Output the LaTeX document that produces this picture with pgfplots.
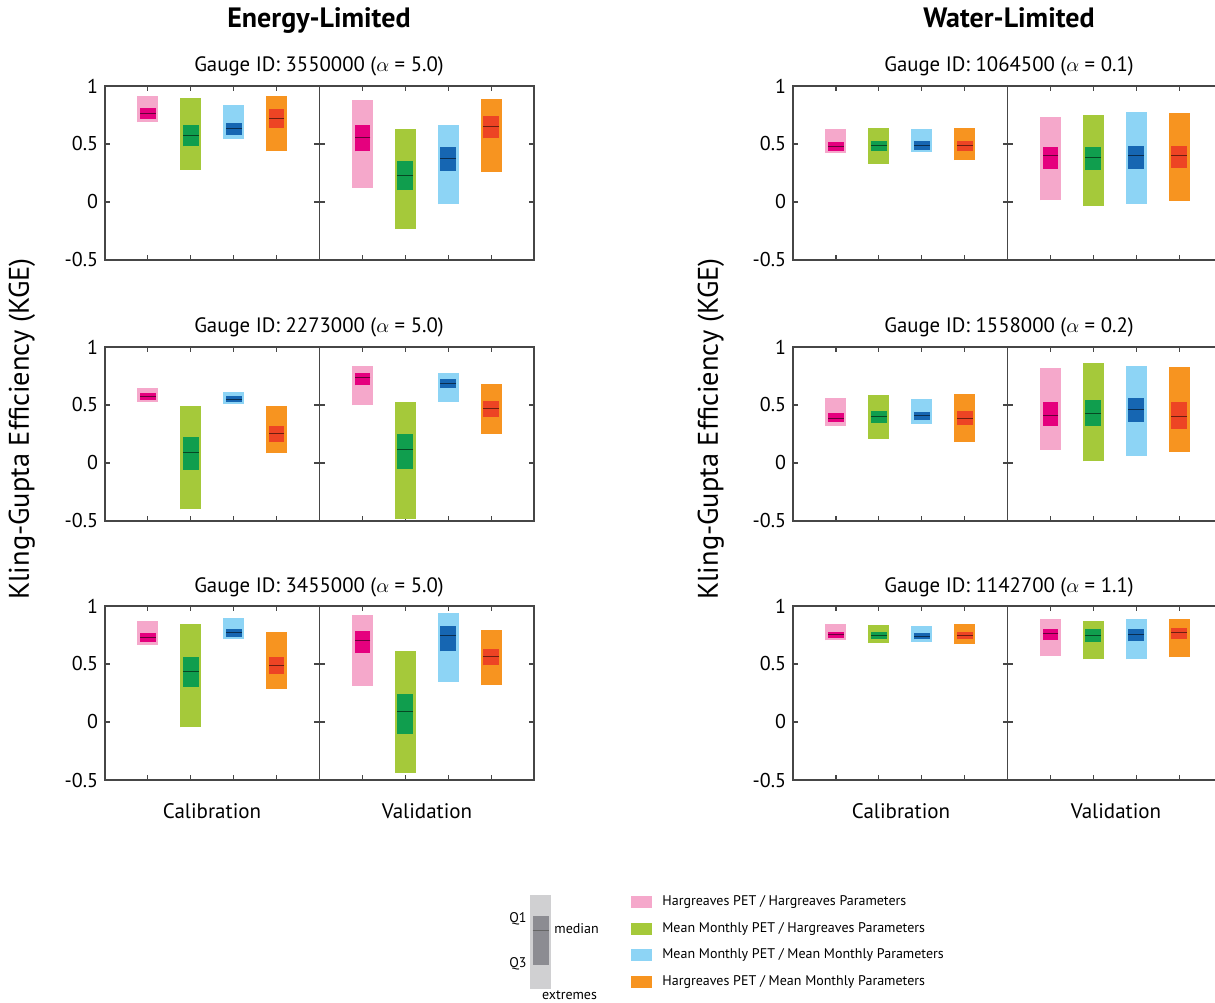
\documentclass[border=0pt]{standalone}
\usepackage{fontspec}
\setmainfont{PT Sans}
\usepackage{pgfplots}
\pgfplotsset{compat=1.18}

\definecolor{pinkL}{RGB}{245,168,203}
\definecolor{pinkD}{RGB}{229,0,126}
\definecolor{greenL}{RGB}{165,201,58}
\definecolor{greenD}{RGB}{16,158,78}
\definecolor{blueL}{RGB}{141,212,245}
\definecolor{blueD}{RGB}{22,102,178}
\definecolor{orangeL}{RGB}{247,148,32}
\definecolor{orangeD}{RGB}{237,68,36}
\definecolor{axisgray}{RGB}{70,70,70}
\definecolor{legL}{RGB}{208,208,210}
\definecolor{legD}{RGB}{140,140,146}

\pgfplotsset{
  panel/.style={
    scale only axis, width=107.25pt, height=87pt,
    xmin=0, xmax=5, ymin=-0.5, ymax=1,
    xtick={1,2,3,4}, xticklabels={,,,,},
    ytick={-0.5,0,0.5,1},
    tick align=inside, major tick length=2.5pt,
    axis line style={axisgray, line width=0.7pt},
    every tick/.style={axisgray, line width=0.6pt},
    anchor=south west,
  },
  calax/.style={panel, yticklabels={-0.5,0,0.5,1},
    yticklabel style={font=\fontsize{10}{12}\selectfont}},
  valax/.style={panel, yticklabels={,,,,}},
}
% #1 position, #2 min, #3 Q1, #4 median, #5 Q3, #6 max, #7 colour family
\newcommand{\bx}[7]{%
  \addplot[draw=#7L, line width=10.5pt] coordinates {(#1,#2) (#1,#6)};
  \addplot[draw=#7D, line width=7.9pt] coordinates {(#1,#3) (#1,#5)};
  \addplot[only marks, mark=-, mark size=3.95pt, mark options={draw=#7D!45!black, line width=0.5pt}] coordinates {(#1,#4)};
}

\begin{document}
\begin{tikzpicture}
\path[use as bounding box] (0,0) rectangle (607.5pt,501pt);

% ===== Energy-Limited, Gauge 3550000 =====
\begin{axis}[calax, at={(52.5pt,371pt)}]
\bx{1}{0.687}{0.718}{0.764}{0.813}{0.917}{pink}
\bx{2}{0.276}{0.48}{0.575}{0.661}{0.90}{green}
\bx{3}{0.543}{0.58}{0.632}{0.684}{0.833}{blue}
\bx{4}{0.437}{0.638}{0.716}{0.799}{0.914}{orange}
\end{axis}
\begin{axis}[valax, at={(159.75pt,371pt)}]
\bx{1}{0.121}{0.437}{0.557}{0.664}{0.882}{pink}
\bx{2}{-0.233}{0.103}{0.23}{0.356}{0.629}{green}
\bx{3}{-0.02}{0.27}{0.379}{0.477}{0.661}{blue}
\bx{4}{0.259}{0.549}{0.652}{0.741}{0.885}{orange}
\end{axis}

% ===== Energy-Limited, Gauge 2273000 =====
\begin{axis}[calax, at={(52.5pt,240.5pt)}]
\bx{1}{0.528}{0.545}{0.574}{0.603}{0.646}{pink}
\bx{2}{-0.399}{-0.057}{0.093}{0.223}{0.493}{green}
\bx{3}{0.508}{0.528}{0.551}{0.574}{0.614}{blue}
\bx{4}{0.082}{0.185}{0.251}{0.318}{0.493}{orange}
\end{axis}
\begin{axis}[valax, at={(159.75pt,240.5pt)}]
\bx{1}{0.496}{0.669}{0.735}{0.778}{0.833}{pink}
\bx{2}{-0.483}{-0.051}{0.113}{0.254}{0.525}{green}
\bx{3}{0.528}{0.646}{0.686}{0.721}{0.778}{blue}
\bx{4}{0.254}{0.398}{0.47}{0.537}{0.677}{orange}
\end{axis}

% ===== Energy-Limited, Gauge 3455000 =====
\begin{axis}[calax, at={(52.5pt,111pt)}]
\bx{1}{0.668}{0.691}{0.731}{0.769}{0.867}{pink}
\bx{2}{-0.047}{0.302}{0.434}{0.562}{0.841}{green}
\bx{3}{0.714}{0.732}{0.769}{0.804}{0.893}{blue}
\bx{4}{0.285}{0.411}{0.489}{0.562}{0.778}{orange}
\end{axis}
\begin{axis}[valax, at={(159.75pt,111pt)}]
\bx{1}{0.311}{0.593}{0.70}{0.784}{0.922}{pink}
\bx{2}{-0.436}{-0.102}{0.088}{0.238}{0.616}{green}
\bx{3}{0.345}{0.608}{0.743}{0.827}{0.942}{blue}
\bx{4}{0.316}{0.489}{0.567}{0.63}{0.789}{orange}
\end{axis}

% ===== Water-Limited, Gauge 1064500 =====
\begin{axis}[calax, at={(396.5pt,371pt)}]
\bx{1}{0.424}{0.441}{0.481}{0.516}{0.625}{pink}
\bx{2}{0.331}{0.438}{0.487}{0.527}{0.634}{green}
\bx{3}{0.432}{0.452}{0.49}{0.522}{0.625}{blue}
\bx{4}{0.36}{0.441}{0.484}{0.527}{0.634}{orange}
\end{axis}
\begin{axis}[valax, at={(503.75pt,371pt)}]
\bx{1}{0.014}{0.288}{0.398}{0.476}{0.735}{pink}
\bx{2}{-0.035}{0.274}{0.383}{0.476}{0.752}{green}
\bx{3}{-0.017}{0.285}{0.40}{0.487}{0.775}{blue}
\bx{4}{0.012}{0.297}{0.40}{0.484}{0.767}{orange}
\end{axis}

% ===== Water-Limited, Gauge 1558000 =====
\begin{axis}[calax, at={(396.5pt,240.5pt)}]
\bx{1}{0.317}{0.352}{0.386}{0.432}{0.562}{pink}
\bx{2}{0.21}{0.346}{0.40}{0.444}{0.582}{green}
\bx{3}{0.337}{0.369}{0.406}{0.441}{0.553}{blue}
\bx{4}{0.179}{0.329}{0.386}{0.444}{0.599}{orange}
\end{axis}
\begin{axis}[valax, at={(503.75pt,240.5pt)}]
\bx{1}{0.115}{0.32}{0.412}{0.522}{0.818}{pink}
\bx{2}{0.014}{0.317}{0.427}{0.539}{0.859}{green}
\bx{3}{0.061}{0.354}{0.461}{0.562}{0.839}{blue}
\bx{4}{0.098}{0.297}{0.398}{0.522}{0.824}{orange}
\end{axis}

% ===== Water-Limited, Gauge 1142700 =====
\begin{axis}[calax, at={(396.5pt,111pt)}]
\bx{1}{0.703}{0.72}{0.752}{0.778}{0.847}{pink}
\bx{2}{0.68}{0.712}{0.744}{0.772}{0.839}{green}
\bx{3}{0.692}{0.712}{0.741}{0.767}{0.83}{blue}
\bx{4}{0.671}{0.715}{0.746}{0.775}{0.847}{orange}
\end{axis}
\begin{axis}[valax, at={(503.75pt,111pt)}]
\bx{1}{0.565}{0.706}{0.761}{0.804}{0.885}{pink}
\bx{2}{0.539}{0.689}{0.746}{0.798}{0.873}{green}
\bx{3}{0.539}{0.695}{0.758}{0.804}{0.885}{blue}
\bx{4}{0.559}{0.715}{0.769}{0.807}{0.885}{orange}
\end{axis}

% ===== Text and legend (image pixel coordinates) =====
\begin{scope}[x=0.5pt, y=-0.5pt, yshift=501pt]
\node[anchor=base, font=\fontsize{14}{16}\selectfont\bfseries] at (319,28) {Energy-Limited};
\node[anchor=base, font=\fontsize{14}{16}\selectfont\bfseries] at (1009,28) {Water-Limited};
\foreach \yy/\gid/\al in {72/3550000/5.0, 333/2273000/5.0, 593/3455000/5.0} {
  \node[anchor=base, font=\fontsize{10.4}{12}\selectfont] at (319,\yy) {Gauge ID: \gid\ (\(\alpha\) = \al)};
}
\foreach \yy/\gid/\al in {72/1064500/0.1, 333/1558000/0.2, 593/1142700/1.1} {
  \node[anchor=base, font=\fontsize{10.4}{12}\selectfont] at (1009,\yy) {Gauge ID: \gid\ (\(\alpha\) = \al)};
}
\node[rotate=90, font=\fontsize{14.2}{16}\selectfont] at (22,429) {Kling-Gupta Efficiency (KGE)};
\node[rotate=90, font=\fontsize{14.2}{16}\selectfont] at (711,429) {Kling-Gupta Efficiency (KGE)};
\node[anchor=base, font=\fontsize{10.5}{12}\selectfont] at (212,818) {Calibration};
\node[anchor=base, font=\fontsize{10.5}{12}\selectfont] at (427,818) {Validation};
\node[anchor=base, font=\fontsize{10.5}{12}\selectfont] at (901,818) {Calibration};
\node[anchor=base, font=\fontsize{10.5}{12}\selectfont] at (1116,818) {Validation};
% schematic
\fill[legL] (530,895) rectangle (551,989);
\fill[legD] (532.5,916) rectangle (548.5,965);
\draw[black!60, line width=0.5pt] (532.5,930) -- (548.5,930);
\node[anchor=base east, inner sep=0pt, font=\fontsize{7}{8}\selectfont] at (527,922) {Q1};
\node[anchor=base east, inner sep=0pt, font=\fontsize{7}{8}\selectfont] at (527,967) {Q3};
\node[anchor=base west, inner sep=0pt, font=\fontsize{7}{8}\selectfont] at (554,933) {median};
\node[anchor=base, inner sep=0pt, font=\fontsize{7}{8}\selectfont] at (569.5,999) {extremes};
% legend
\fill[pinkL] (631,896) rectangle (652,908);
\fill[greenL] (631,922.7) rectangle (652,934.7);
\fill[blueL] (631,949.3) rectangle (652,961.3);
\fill[orangeL] (631,976) rectangle (652,988);
\node[anchor=west, inner sep=0pt, font=\fontsize{7}{8}\selectfont] at (662,902) {Hargreaves PET / Hargreaves Parameters};
\node[anchor=west, inner sep=0pt, font=\fontsize{7}{8}\selectfont] at (662,928.7) {Mean Monthly PET / Hargreaves Parameters};
\node[anchor=west, inner sep=0pt, font=\fontsize{7}{8}\selectfont] at (662,955.3) {Mean Monthly PET / Mean Monthly Parameters};
\node[anchor=west, inner sep=0pt, font=\fontsize{7}{8}\selectfont] at (662,982) {Hargreaves PET / Mean Monthly Parameters};
\end{scope}
\end{tikzpicture}
\end{document}
